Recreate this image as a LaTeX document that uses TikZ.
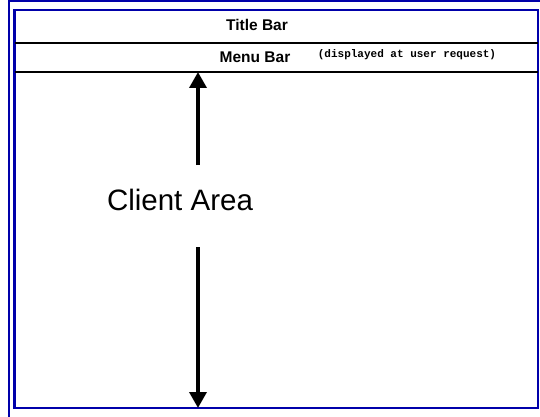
\documentclass[tikz,border=0pt]{standalone}
\usepackage{fontspec}
\setmainfont{Liberation Sans}
\setmonofont{Liberation Mono}
\usetikzlibrary{arrows.meta}
\definecolor{frameblue}{RGB}{0,0,170}

\begin{document}
\begin{tikzpicture}[x=1pt, y=-1pt,
    bar/.style={font=\bfseries\fontsize{15.5}{16}\selectfont},
    arr/.style={line width=3.5, -{Triangle[width=17, length=16]}}]
    \def\xl{14.5}
    \def\xr{538}
    \def\ytop{10}
    \def\ybot{408}
    \useasboundingbox (0,0) rectangle (540,417);

    % outer window frame
    \coordinate (O1) at (8.5,417);
    \coordinate (O2) at (8.5,1.5);
    \coordinate (O3) at (540,1.5);
    \draw[frameblue, line width=2] (O1) -- (O2) -- (O3);

    \coordinate (TL) at (\xl,\ytop);
    \coordinate (BR) at (\xr,\ybot);
    \draw[frameblue, line width=2.2] (TL) rectangle (BR);

    \coordinate (T0) at (\xl,43);
    \coordinate (T1) at (\xr,43);
    \coordinate (M0) at (\xl,72);
    \coordinate (M1) at (\xr,72);
    \draw[line width=2] (T0) -- (T1);
    \draw[line width=2] (M0) -- (M1);

    \node[bar] (title) at (257,25) {Title Bar};
    \node[bar] (menu) at (255,57) {Menu Bar};
    \node[font=\ttfamily\bfseries\fontsize{11}{12}\selectfont] (note) at (407,55) {(displayed at user request)};
    \node[font=\fontsize{29.5}{30}\selectfont] (area) at (180,200) {Client Area};

    \coordinate (A0) at (198,165);
    \coordinate (A1) at (198,72);
    \coordinate (A2) at (198,247);
    \coordinate (A3) at (198,408);
    \draw[arr] (A0) -- (A1);
    \draw[arr] (A2) -- (A3);
\end{tikzpicture}
\end{document}
